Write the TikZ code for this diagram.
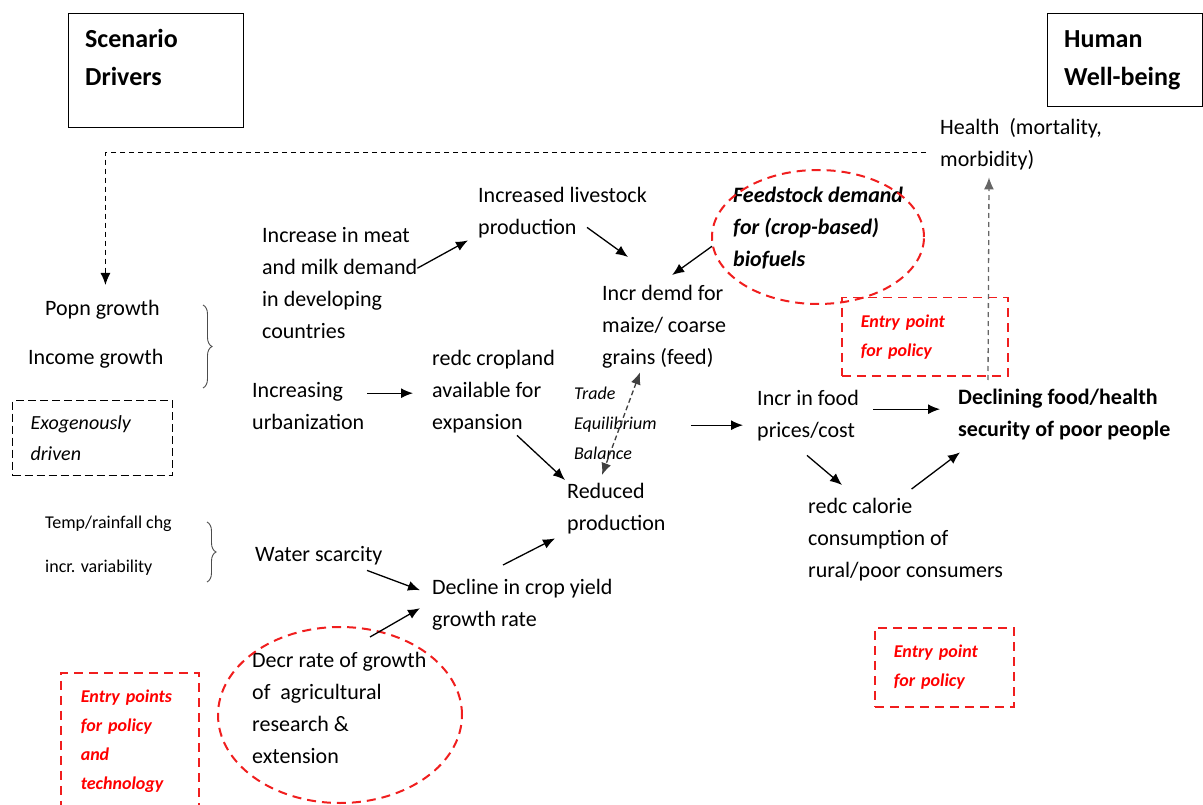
\documentclass[tikz,border=0pt]{standalone}
\usepackage{fontspec}
\setmainfont{Carlito}
\usepackage{tikz}
\usetikzlibrary{arrows.meta,calc,positioning,shapes.geometric,decorations.pathreplacing}

\definecolor{entryred}{RGB}{240,30,30}

\tikzset{
  txt/.style={anchor=north west, inner sep=0pt, align=left,
    font=\fontsize{22}{32}\selectfont,
    execute at begin node=\strut, execute at end node=\strut},
  smalltxt/.style={txt, font=\fontsize{18}{30}\selectfont},
  head/.style={txt, font=\fontsize{26}{38}\selectfont\bfseries},
  hbox/.style={draw, line width=1.2pt, anchor=north west},
  arr/.style={-{Latex[length=12pt,width=10pt]}, line width=1.3pt},
  redring/.style={ellipse, draw=entryred, dash pattern=on 9pt off 6pt, line width=2pt, inner sep=0pt},
  entrybox/.style={draw=entryred, dash pattern=on 9pt off 6pt, line width=1.5pt,
    anchor=north west, inner ysep=0pt, align=left, text=red,
    font=\fontsize{18}{29}\selectfont\bfseries\itshape},
  brc/.style={decorate, decoration={brace, amplitude=9pt}, line width=0.9pt, black!70}
}

\begin{document}
\begin{tikzpicture}[x=1pt,y=-1pt]
  \useasboundingbox (0,0) rectangle (1203,805);
  \clip (0,0) rectangle (1203,805);

  % heading boxes
  \node[hbox, minimum width=175pt, minimum height=114pt] (scenbox) at (68,13) {};
  \node[head] (scen) at (85,21) {\strut Scenario\\Drivers};
  \node[hbox, minimum width=155pt, minimum height=93pt] (humanbox) at (1047,13) {};
  \node[head] (human) at (1064,21) {\strut Human\\Well-being};

  % drivers
  \node[txt] (health) at (940,112) {\strut Health\ \ (mortality,\\morbidity)};
  \node[txt] (popn) at (45,293) {Popn growth};
  \node[txt] (income) at (28,342) {Income growth};
  \node[draw, dash pattern=on 8pt off 4pt, line width=1.2pt, anchor=north west,
        minimum width=160pt, minimum height=75pt, inner xsep=18pt, inner ysep=0pt,
        text width=124pt, align=left, font=\fontsize{20}{31}\selectfont\itshape]
        (exo) at (12,400) {Exogenously\\driven};
  \node[smalltxt] (temp) at (45,507) {Temp/rainfall chg};
  \node[smalltxt] (varb) at (45,551) {incr. variability};
  \draw[brc] (203,305) -- (203,388);
  \draw[brc] (207,522) -- (207,582);

  % middle
  \node[txt] (meat) at (262,220) {\strut Increase in meat\\and milk demand\\in developing\\countries};
  \node[txt] (livestock) at (478,180) {\strut Increased livestock\\production};
  \node[txt, font=\fontsize{22}{32}\selectfont\bfseries\itshape] (feed) at (733,180)
        {\strut Feedstock demand\\for (crop-based)\\biofuels};
  \node[redring, minimum width=212pt, minimum height=134pt] (feedring) at (818,237) {};
  \node[txt] (maize) at (602,278) {\strut Incr demd for\\maize/ coarse\\grains (feed)};
  \node[txt] (urban) at (252,375) {\strut Increasing\\urbanization};
  \node[txt] (cropland) at (432,343) {\strut redc cropland\\available for\\expansion};
  \node[smalltxt, font=\fontsize{18}{30}\selectfont\itshape] (trade) at (574,378)
        {\strut Trade\\Equilibrium\\Balance};
  \node[txt] (food) at (757,383) {\strut Incr in food\\prices/cost};
  \node[txt, font=\fontsize{22}{32}\selectfont\bfseries] (declining) at (958,382)
        {\strut Declining food/health\\security of poor people};
  \node[txt] (reduced) at (567,476) {\strut Reduced\\production};
  \node[txt] (calorie) at (808,491) {\strut redc calorie\\consumption of\\rural/poor consumers};
  \node[txt] (water) at (255,539) {Water scarcity};
  \node[txt] (decline) at (432,572) {\strut Decline in crop yield\\growth rate};
  \node[txt] (decr) at (252,645) {\strut Decr rate of growth\\of\ \ agricultural\\research \&\\extension};
  \node[redring, minimum width=244pt, minimum height=176pt] (agring) at (340,715) {};

  % entry points
  \node[entrybox, minimum width=166pt, minimum height=78pt, inner xsep=19pt, text width=128pt]
        (entryA) at (841,297) {Entry point\\for policy};
  \node[entrybox, minimum width=139pt, minimum height=79pt, inner xsep=19pt, text width=101pt]
        (entryB) at (874,627) {Entry point\\for policy};
  \node[entrybox, minimum width=138pt, minimum height=136pt, inner xsep=20pt, text width=98pt]
        (entryC) at (60,672) {Entry points\\for policy\\and\\technology};

  % feedback to drivers
  \draw[dash pattern=on 5pt off 4pt, line width=1.2pt, -{Latex[length=12pt,width=10pt]}]
        ([shift={(-14pt,-8pt)}]health.west) -| ([shift={(3pt,8pt)}]popn.north);

  % arrows
  \draw[arr] ([yshift=16pt]meat.east) -- ([shift={(-10pt,4pt)}]livestock.south west);
  \draw[arr] ([shift={(109pt,17pt)}]livestock.south west) -- ([shift={(26pt,21pt)}]maize.north west);
  \draw[arr] (feedring.185) -- ([shift={(8pt,3pt)}]maize.north);
  \draw[arr] ([shift={(3pt,14pt)}]urban.east) -- ([shift={(-19pt,-2pt)}]cropland.west);
  \draw[arr] ([shift={(85pt,4pt)}]cropland.south west) -- ([shift={(-2pt,-4pt)}]reduced.north west);
  \draw[arr, black!75, dash pattern=on 5pt off 3pt, {Latex[length=12pt,width=10pt]}-{Latex[length=12pt,width=10pt]}]
        ([shift={(38pt,2pt)}]maize.south west) -- ([shift={(35pt,1pt)}]reduced.north west);
  \draw[arr] ([shift={(34pt,-2pt)}]trade.east) -- ([shift={(-14pt,-10pt)}]food.west);
  \draw[arr] ([shift={(14pt,6pt)}]food.east) -- ([shift={(-18pt,5pt)}]declining.west);
  \draw[arr] ([shift={(50pt,-8pt)}]food.south west) -- ([shift={(34pt,6pt)}]calorie.north west);
  \draw[arr] ([shift={(6pt,2pt)}]calorie.north) -- ([shift={(2pt,-6pt)}]declining.south west);
  \draw[arr, black!60, dash pattern=on 5pt off 4pt]
        ([shift={(30pt,2pt)}]declining.north west) -- ([shift={(49pt,-1pt)}]health.south west);
  \draw[arr] ([shift={(112pt,1pt)}]water.south west) -- ([shift={(-12pt,14pt)}]decline.west);
  \draw[arr] ([shift={(118pt,8pt)}]decr.north west) -- ([shift={(-12pt,-4pt)}]decline.west);
  \draw[arr] ([shift={(71pt,7pt)}]decline.north west) -- ([shift={(-12pt,2pt)}]reduced.south west);
\end{tikzpicture}
\end{document}
